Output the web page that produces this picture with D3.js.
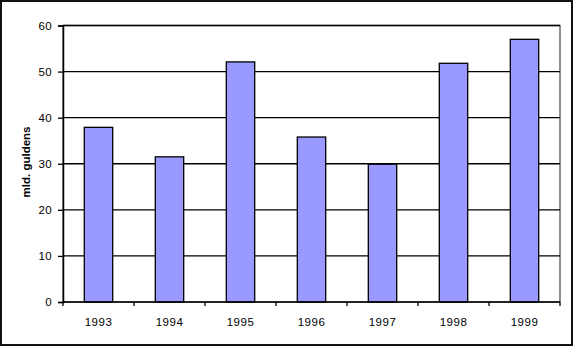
<!DOCTYPE html>
<html>
<head>
<meta charset="utf-8">
<script src="https://cdn.jsdelivr.net/npm/d3@7"></script>
<style>
  body { margin: 0; background: #fff; }
  svg text { font-family: "Liberation Sans", Arial, sans-serif; }
</style>
</head>
<body>
<svg id="chart" width="574" height="347"></svg>
<script>
// data
var years = ["1993", "1994", "1995", "1996", "1997", "1998", "1999"];
var values = [37.9, 31.5, 52.1, 35.8, 29.9, 51.8, 57.0];
var yTicks = [0, 10, 20, 30, 40, 50, 60];

var svg = d3.select("#chart");

// outer frame
svg.append("rect")
  .attr("x", 1).attr("y", 1)
  .attr("width", 571).attr("height", 344)
  .attr("fill", "#fff")
  .attr("stroke", "#111")
  .attr("stroke-width", 2);

var plot = {left: 63, right: 560, top: 25.5, bottom: 302};

var x = d3.scaleBand()
  .domain(years)
  .range([plot.left, plot.right])
  .paddingInner(0.6)
  .paddingOuter(0.3);

var y = d3.scaleLinear()
  .domain([0, 60])
  .range([plot.bottom, plot.top]);

// plot area border
svg.append("rect")
  .attr("x", plot.left).attr("y", plot.top)
  .attr("width", plot.right - plot.left).attr("height", plot.bottom - plot.top)
  .attr("fill", "#fff")
  .attr("stroke", "#555")
  .attr("stroke-width", 1.3);

// gridlines
svg.append("g")
  .selectAll("line")
  .data(yTicks.filter(function (d) { return d > 0; }))
  .join("line")
  .attr("x1", plot.left).attr("x2", plot.right)
  .attr("y1", function (d) { return y(d); })
  .attr("y2", function (d) { return y(d); })
  .attr("stroke", "#000")
  .attr("stroke-width", 1.3);

// bars
svg.append("g")
  .selectAll("rect")
  .data(values)
  .join("rect")
  .attr("x", function (d, i) { return x(years[i]); })
  .attr("y", function (d) { return y(d); })
  .attr("width", x.bandwidth())
  .attr("height", function (d) { return y(0) - y(d); })
  .attr("fill", "#9999FF")
  .attr("stroke", "#000")
  .attr("stroke-width", 1.3);

// y axis
var yAxis = svg.append("g")
  .attr("transform", "translate(" + plot.left + ",0)")
  .call(d3.axisLeft(y).tickValues(yTicks).tickSize(5).tickPadding(6));
yAxis.select(".domain").attr("stroke", "#000").attr("stroke-width", 1.5);
yAxis.selectAll(".tick line").attr("stroke", "#000").attr("stroke-width", 1.3);
yAxis.selectAll("text")
  .attr("font-size", 11.5)
  .attr("fill", "#000")
  .attr("letter-spacing", 0.4)
  .attr("font-family", "Liberation Sans, Arial, sans-serif");

// x axis: ticks sit on the category boundaries
var step = x.step();
var bounds = d3.range(years.length + 1).map(function (i) { return plot.left + i * step; });
var xAxis = svg.append("g");
xAxis.append("line")
  .attr("x1", plot.left).attr("x2", plot.right)
  .attr("y1", plot.bottom).attr("y2", plot.bottom)
  .attr("stroke", "#000").attr("stroke-width", 1.5);
xAxis.selectAll("line.tk")
  .data(bounds)
  .join("line")
  .attr("class", "tk")
  .attr("x1", function (d) { return d; }).attr("x2", function (d) { return d; })
  .attr("y1", plot.bottom).attr("y2", plot.bottom + 4)
  .attr("stroke", "#000").attr("stroke-width", 1.3);
xAxis.selectAll("text")
  .data(years)
  .join("text")
  .attr("x", function (d) { return x(d) + x.bandwidth() / 2; })
  .attr("y", 326)
  .attr("text-anchor", "middle")
  .attr("font-size", 11.5)
  .attr("letter-spacing", 0.5)
  .text(function (d) { return d; });

// y title
svg.append("text")
  .attr("transform", "translate(30,162) rotate(-90)")
  .attr("text-anchor", "middle")
  .attr("font-size", 11.5)
  .attr("font-weight", "bold")
  .text("mld. guldens");
</script>
</body>
</html>
